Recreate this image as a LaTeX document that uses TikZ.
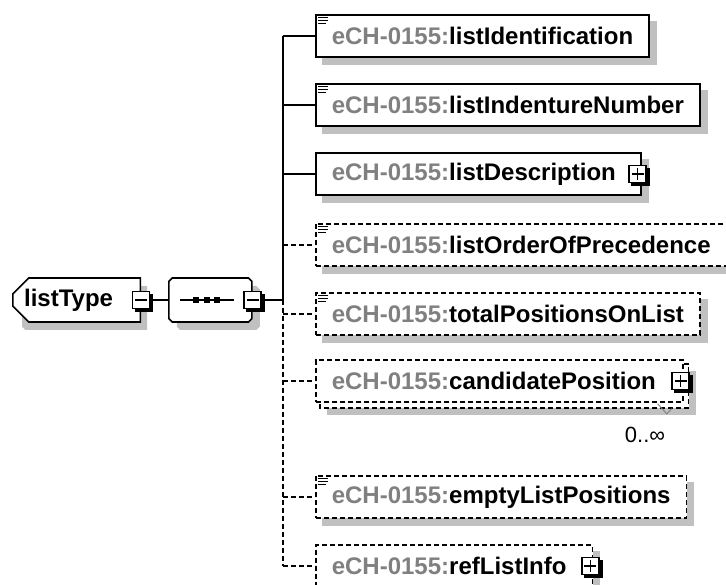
\documentclass[tikz,border=0pt]{standalone}
\usepackage{fontspec}
\setmainfont{Liberation Sans}
\usetikzlibrary{shapes.misc}
\definecolor{shadowgray}{RGB}{192,192,192}
\definecolor{prefixgray}{RGB}{128,128,128}
\newcommand\elemfont{\bfseries\fontsize{24}{27}\selectfont}
\newcommand\ech{{\color{prefixgray}eCH-0155:}}
\newcommand\docicon[1]{%
  \foreach \dy/\len in {3.5/10,6.5/10,9.5/8}
    \draw[line width=1.3pt] ([shift={(3,\dy)}]#1.north west) -- ++(\len,0);}
\newcommand\boxshadow[2]{%
  \fill[shadowgray] ([shift={(#2,#2)}]#1.north west) rectangle ([shift={(#2,#2)}]#1.south east);}
\newcommand\signshadow[1]{%
  \fill[black] ([shift={(3,3)}]#1.north west) rectangle ([shift={(3,3)}]#1.south east);}
\pgfdeclarelayer{background}
\pgfdeclarelayer{front}
\pgfsetlayers{background,main,front}
\tikzset{
  box/.style={draw, fill=white, line width=1.6pt, minimum height=42pt, inner xsep=16pt, inner ysep=0pt, anchor=west, font=\elemfont},
  optbox/.style={box, dash pattern=on 5pt off 3pt},
  cmp/.style={chamfered rectangle, chamfered rectangle sep=8pt, draw, fill=white, line width=1.6pt, minimum height=44pt, inner ysep=0pt, font=\elemfont},
  cmpshadow/.style={draw=none, fill=shadowgray, anchor=center},
  sign/.style={draw, fill=white, line width=1.5pt, minimum size=17pt, inner sep=0pt},
  minus/.style={sign, path picture={\draw[line width=1.4pt] ([xshift=-6pt]path picture bounding box.center) -- ([xshift=6pt]path picture bounding box.center);}},
  plus/.style={sign, path picture={\draw[line width=1.4pt] ([xshift=-6pt]path picture bounding box.center) -- ([xshift=6pt]path picture bounding box.center) ([yshift=-6pt]path picture bounding box.center) -- ([yshift=6pt]path picture bounding box.center);}},
  branch/.style={line width=1.6pt},
  optbranch/.style={branch, dash pattern=on 5pt off 3pt}
}
\begin{document}
\begin{tikzpicture}[x=1pt,y=-1pt]
\useasboundingbox (0,0) rectangle (726,585);

\node[cmp, chamfered rectangle corners={north west,south west}, minimum width=125pt, anchor=west] (lt) at (12,300) {listType\hspace*{16pt}};
\node[cmp, minimum width=83pt, anchor=west] (seq) at (168,300) {};
\draw[line width=1.4pt] ([xshift=12pt]seq.west) -- ([xshift=-19pt]seq.east);
\foreach \dx in {28,38.5,49}
  \fill ([xshift=\dx pt]seq.west) +(-3,-3) rectangle +(3,3);
\coordinate (bus) at (283,300);

\node[box] (e1) at (315,36) {\ech listIdentification};
\node[box] (e2) at (315,105) {\ech listIndentureNumber};
\node[box] (e3) at (315,174) {\ech listDescription\hspace*{9pt}};
\node[optbox] (e4) at (315,245) {\ech listOrderOfPrecedence};
\node[optbox] (e5) at (315,314) {\ech totalPositionsOnList};
\node[optbox] (e6) at (315,381) {\ech candidatePosition\hspace*{11pt}};
\node[optbox] (e7) at (315,497) {\ech emptyListPositions};
\node[optbox] (e8) at (315,566) {\ech refListInfo\hspace*{10pt}};

\begin{pgfonlayer}{background}
\node[cmp, chamfered rectangle corners={north west,south west}, minimum width=125pt, cmpshadow] (lts) at ([shift={(8,8)}]lt.center) {};
\node[cmp, minimum width=83pt, cmpshadow] (seqs) at ([shift={(8,8)}]seq.center) {};
\foreach \e in {e1,e2,e3,e4,e5,e7,e8}{\boxshadow{\e}{7}}
\boxshadow{e6}{12}
\draw[optbox] ([shift={(5,5)}]e6.north west) rectangle ([shift={(5,5)}]e6.south east);
\end{pgfonlayer}

\begin{pgfonlayer}{front}
\node[minus] (ltm) at (lt.east) {};
\node[minus] (seqm) at (seq.east) {};
\node[plus] (e3p) at ([xshift=-4pt]e3.east) {};
\node[plus] (e6p) at ([xshift=-3pt]e6.east) {};
\node[plus] (e8p) at ([xshift=-3pt]e8.east) {};
\end{pgfonlayer}
\foreach \s in {ltm,seqm,e3p,e6p,e8p}{\signshadow{\s}}

\node[font=\fontsize{22}{24}\selectfont] (occ) at (645,435) {0..∞};
\draw[prefixgray, line width=0.9pt] ([shift={(-26,1)}]e6.south east) -- ++(9,10) -- ++(5,-5);

\foreach \e in {e1,e2,e4,e5,e7}{\docicon{\e}}

\draw[branch] (ltm.east) -- (seq.west);
\draw[branch] (seqm.east) -- (bus);
\draw[branch] (e1.west -| bus) -- (bus);
\draw[optbranch] (bus) -- (e8.west -| bus);
\foreach \e in {e1,e2,e3}
  \draw[branch] (\e.west -| bus) -- (\e.west);
\foreach \e in {e4,e5,e6,e7,e8}
  \draw[optbranch] (\e.west -| bus) -- (\e.west);
\end{tikzpicture}
\end{document}
